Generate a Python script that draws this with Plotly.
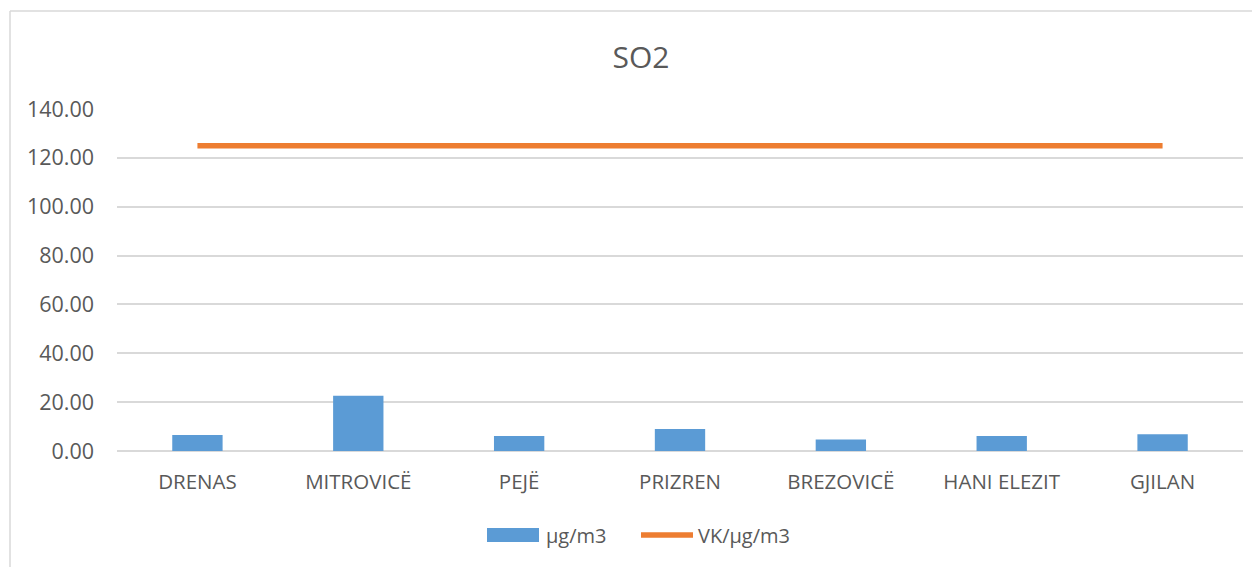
import plotly.graph_objects as go

categories = ["DRENAS", "MITROVICË", "PEJË", "PRIZREN", "BREZOVICË", "HANI ELEZIT", "GJILAN"]
values = [6.5, 22.6, 6.1, 9.0, 4.7, 6.1, 6.9]
limit_values = [125, 125, 125, 125, 125, 125, 125]
y_ticks = [0, 20, 40, 60, 80, 100, 120, 140]

OFF = 8  # page body margin
W, H = 1252, 559
ML, MT = 117 - OFF, 109 - OFF
PR, PB = 1243 - OFF, 451 - OFF
MR, MB = W - PR, H - PB
PW, PH = W - ML - MR, H - MT - MB

def px(x):
    return (x - OFF - ML) / PW

def py(y):
    return (PB - (y - OFF)) / PH

TXT = "#595959"
FONT = "Open Sans"

fig = go.Figure()
fig.add_trace(go.Bar(x=categories, y=values, name="µg/m3",
                     marker=dict(color="#5B9BD5", line=dict(width=0)), showlegend=False))
fig.add_trace(go.Scatter(x=categories, y=limit_values, name="VK/µg/m3", mode="lines",
                         line=dict(color="#ED7D31", width=5.5), showlegend=False))

shapes = [
    # chart border (only left and top edges are visible in the frame)
    dict(type="line", xref="paper", yref="paper", x0=px(10), x1=px(10), y0=py(570), y1=py(11),
         line=dict(color="#D9D9D9", width=1.5)),
    dict(type="line", xref="paper", yref="paper", x0=px(10), x1=px(1264), y0=py(11), y1=py(11),
         line=dict(color="#D9D9D9", width=1.5)),
    dict(type="rect", xref="paper", yref="paper", x0=px(487), x1=px(539), y0=py(542), y1=py(528),
         line=dict(width=0), fillcolor="#5B9BD5"),
    dict(type="line", xref="paper", yref="paper", x0=px(641), x1=px(693), y0=py(535), y1=py(535),
         line=dict(color="#ED7D31", width=5.5)),
]
annotations = [
    dict(text="µg/m3", xref="paper", yref="paper", x=px(544), y=py(535), xanchor="left",
         yanchor="middle", showarrow=False, font=dict(size=20, color=TXT, family=FONT)),
    dict(text="VK/µg/m3", xref="paper", yref="paper", x=px(696), y=py(535), xanchor="left",
         yanchor="middle", showarrow=False, font=dict(size=20, color=TXT, family=FONT)),
]

fig.update_layout(
    width=W, height=H,
    margin=dict(l=ML, r=MR, t=MT, b=MB),
    paper_bgcolor="white", plot_bgcolor="white",
    title=dict(text="SO2", x=(641 - OFF) / W, xanchor="center", y=1 - (57 - OFF) / H,
               yanchor="middle", yref="container", font=dict(size=30, color=TXT, family=FONT)),
    bargap=0.687,
    shapes=shapes,
    annotations=annotations,
    showlegend=False,
    font=dict(family=FONT, color=TXT),
)
fig.update_xaxes(showgrid=False, showline=False, zeroline=False, ticks="",
                 tickfont=dict(size=20.5, color=TXT, family=FONT), ticklabelstandoff=16)
fig.update_yaxes(range=[0, 140], tickvals=y_ticks, tickformat=".2f", showgrid=True,
                 gridcolor="#D9D9D9", gridwidth=1.5, zeroline=True, zerolinecolor="#D9D9D9",
                 zerolinewidth=1.5, showline=False, ticks="",
                 tickfont=dict(size=21.5, color=TXT, family=FONT), ticklabelstandoff=22)

fig.write_html("out.html")
